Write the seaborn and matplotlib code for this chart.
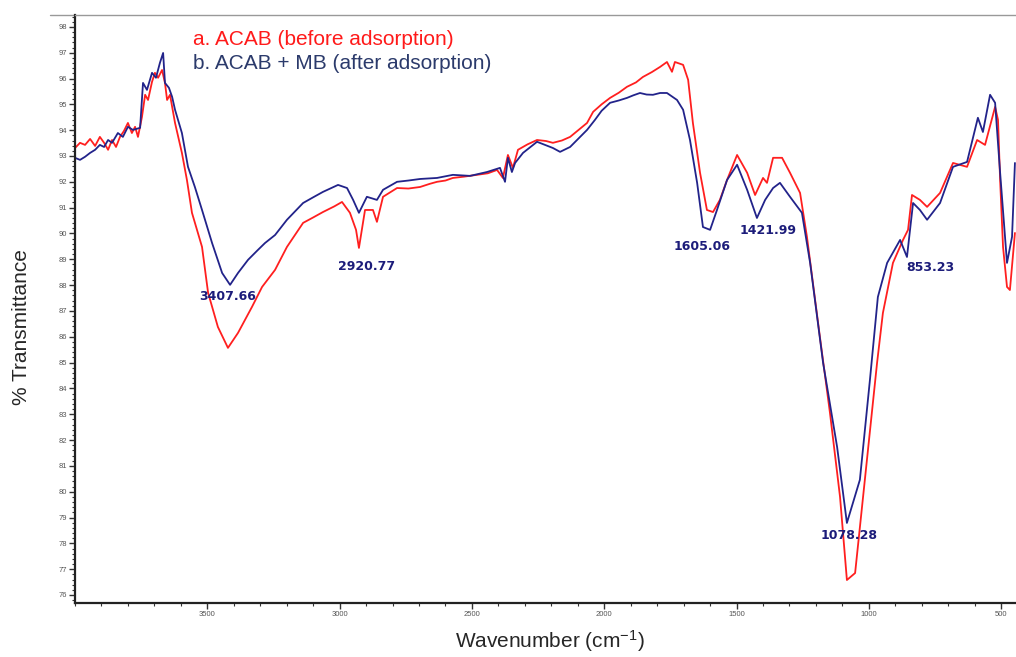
import matplotlib
matplotlib.use("Agg")
import matplotlib.pyplot as plt
from matplotlib.ticker import MultipleLocator
import seaborn as sns
import pandas as pd

# spectrum a: ACAB before adsorption
a_wn = [4000, 3981, 3962, 3943, 3924, 3906, 3890, 3875, 3860, 3845, 3830, 3815, 3800, 3785,
        3773, 3762, 3747, 3735, 3724, 3709, 3698, 3686, 3671, 3660, 3652, 3641, 3622, 3596,
        3577, 3558, 3520, 3497, 3460, 3422, 3384, 3331, 3293, 3244, 3199, 3138, 3100, 3063,
        3020, 2991, 2961, 2938, 2927, 2904, 2874, 2859, 2836, 2783, 2740, 2696, 2660, 2632,
        2600, 2572, 2530, 2481, 2440, 2405, 2383, 2364, 2345, 2326, 2290, 2254, 2220, 2194,
        2160, 2129, 2065, 2042, 2010, 1978, 1945, 1914, 1880, 1854, 1820, 1789, 1763, 1744,
        1733, 1702, 1683, 1665, 1638, 1612, 1589, 1563, 1536, 1498, 1460, 1430, 1400, 1385,
        1362, 1328, 1298, 1260, 1234, 1185, 1147, 1109, 1083, 1052, 1022, 996, 969, 947,
        909, 871, 852, 837, 807, 780, 731, 682, 629, 591, 561, 523, 512, 504, 493, 478,
        467, 448]
a_t = [93.31, 93.51, 93.43, 93.66, 93.39, 93.74, 93.51, 93.24, 93.62, 93.35, 93.74, 93.97,
       94.28, 93.89, 94.13, 93.74, 94.51, 95.37, 95.17, 95.87, 96.22, 96.03, 96.33, 95.83,
       95.17, 95.37, 94.28, 93.12, 92.07, 90.80, 89.48, 87.70, 86.38, 85.57, 86.15, 87.16,
       87.93, 88.59, 89.48, 90.41, 90.62, 90.83, 91.05, 91.22, 90.80, 90.14, 89.44, 90.91,
       90.91, 90.45, 91.42, 91.76, 91.74, 91.80, 91.92, 92.00, 92.05, 92.15, 92.20, 92.27,
       92.33, 92.46, 92.15, 93.04, 92.54, 93.24, 93.45, 93.62, 93.58, 93.51, 93.60, 93.74,
       94.28, 94.71, 95.00, 95.25, 95.45, 95.68, 95.85, 96.06, 96.25, 96.45, 96.64, 96.26,
       96.64, 96.53, 95.95, 94.28, 92.35, 90.91, 90.83, 91.30, 92.07, 93.04, 92.35, 91.49,
       92.15, 91.96, 92.93, 92.93, 92.35, 91.57, 89.87, 85.99, 83.05, 79.80, 76.58, 76.85,
       79.80, 82.39, 84.99, 86.92, 88.86, 89.75, 90.14, 91.49, 91.30, 91.03, 91.57, 92.73,
       92.58, 93.62, 93.43, 94.90, 94.40, 92.07, 89.48, 87.93, 87.81, 90.02]

# spectrum b: ACAB + MB after adsorption
b_wn = [4000, 3981, 3962, 3943, 3924, 3906, 3890, 3875, 3860, 3838, 3819, 3800, 3781, 3754,
        3743, 3728, 3709, 3694, 3679, 3667, 3660, 3645, 3633, 3622, 3596, 3573, 3547, 3520,
        3482, 3444, 3414, 3384, 3346, 3310, 3282, 3244, 3199, 3138, 3100, 3063, 3006, 2972,
        2949, 2927, 2897, 2859, 2836, 2783, 2740, 2696, 2632, 2572, 2507, 2443, 2394, 2375,
        2364, 2349, 2337, 2307, 2254, 2194, 2167, 2129, 2065, 2035, 2010, 1978, 1945, 1914,
        1890, 1865, 1840, 1816, 1789, 1763, 1725, 1702, 1676, 1649, 1627, 1600, 1574, 1536,
        1498, 1460, 1423, 1392, 1362, 1336, 1298, 1253, 1222, 1173, 1120, 1083, 1034, 996,
        966, 931, 882, 856, 833, 807, 780, 731, 682, 629, 588, 569, 542, 523, 504, 478,
        459, 448]
b_t = [92.93, 92.85, 92.97, 93.12, 93.24, 93.43, 93.35, 93.62, 93.51, 93.89, 93.74, 94.13,
       94.01, 94.09, 95.83, 95.56, 96.22, 96.03, 96.61, 96.99, 95.83, 95.64, 95.29, 94.79,
       93.89, 92.58, 91.80, 90.91, 89.63, 88.47, 88.01, 88.47, 88.98, 89.35, 89.63, 89.94,
       90.53, 91.18, 91.40, 91.61, 91.88, 91.76, 91.30, 90.80, 91.42, 91.30, 91.69, 92.00,
       92.05, 92.11, 92.15, 92.27, 92.23, 92.38, 92.54, 92.00, 92.93, 92.38, 92.73, 93.12,
       93.55, 93.31, 93.16, 93.35, 94.01, 94.40, 94.75, 95.06, 95.15, 95.25, 95.35, 95.44,
       95.38, 95.37, 95.44, 95.44, 95.17, 94.79, 93.62, 91.96, 90.25, 90.14, 90.91, 92.07,
       92.66, 91.69, 90.60, 91.30, 91.76, 91.96, 91.42, 90.80, 88.86, 84.99, 81.73, 78.79,
       80.46, 84.33, 87.54, 88.86, 89.75, 89.09, 91.18, 90.91, 90.53, 91.18, 92.58, 92.77,
       94.48, 93.93, 95.37, 95.06, 92.35, 88.86, 89.87, 92.73]

peak_labels = ["3407.66", "2920.77", "1605.06", "1421.99", "853.23", "1078.28"]
peak_x = [3422, 2897, 1631, 1381, 769, 1075]
peak_y = [87.54, 88.74, 89.48, 90.10, 88.67, 78.29]

sns.set_style("ticks")
plt.rcParams["font.family"] = ["Liberation Sans", "DejaVu Sans"]
plt.rcParams["mathtext.default"] = "regular"

fig = plt.figure(figsize=(10.16, 6.57), dpi=100)
ax = fig.add_axes([75 / 1016, 54 / 657, 941 / 1016, 588 / 657])

df_a = pd.DataFrame({"wn": a_wn, "t": a_t})
df_b = pd.DataFrame({"wn": b_wn, "t": b_t})
sns.lineplot(data=df_a, x="wn", y="t", ax=ax, color="#ff1f1f", lw=1.3, estimator=None, sort=False)
sns.lineplot(data=df_b, x="wn", y="t", ax=ax, color="#22238a", lw=1.3, estimator=None, sort=False)

ax.set_xlim(4000, 444)
ax.set_ylim(75.69, 98.46)
ax.xaxis.set_major_locator(MultipleLocator(500))
ax.xaxis.set_minor_locator(MultipleLocator(100))
ax.yaxis.set_major_locator(MultipleLocator(1))
ax.yaxis.set_minor_locator(MultipleLocator(0.2))
ax.tick_params(axis="both", which="major", direction="out", length=4, width=1,
               labelsize=5.5, labelcolor="#555555", color="#333333", pad=1.5)
ax.tick_params(axis="both", which="minor", direction="out", length=2, width=0.8, color="#333333")
ax.set_xticks([3500, 3000, 2500, 2000, 1500, 1000, 500])

for side in ["left", "bottom"]:
    ax.spines[side].set_color("#222222")
    ax.spines[side].set_linewidth(1.6)
ax.spines["top"].set_color("#999999")
ax.spines["top"].set_linewidth(1.0)
ax.spines["right"].set_visible(False)
# frame line at the top runs a little past the y axis
ax.plot([-0.027, 0], [1, 1], transform=ax.transAxes, color="#999999", lw=1.0, clip_on=False)

ax.set_xlabel("Wavenumber (cm$^{-1}$)", fontsize=15)
ax.xaxis.set_label_coords(0.505, -0.042)
ax.set_ylabel("% Transmittance", fontsize=15)
ax.yaxis.set_label_coords(-0.047, 0.469)

ax.text(0.125, 0.949, "a. ACAB (before adsorption)", transform=ax.transAxes,
        color="#ff1a1a", fontsize=15, va="baseline")
ax.text(0.125, 0.908, "b. ACAB + MB (after adsorption)", transform=ax.transAxes,
        color="#2b3a6b", fontsize=15, va="baseline")

for lab, px, py in zip(peak_labels, peak_x, peak_y):
    ax.text(px, py, lab, color="#1c1c7a", fontsize=9, fontweight="bold",
            family="DejaVu Sans", ha="center", va="center")

fig.savefig("out.png", dpi=100)
